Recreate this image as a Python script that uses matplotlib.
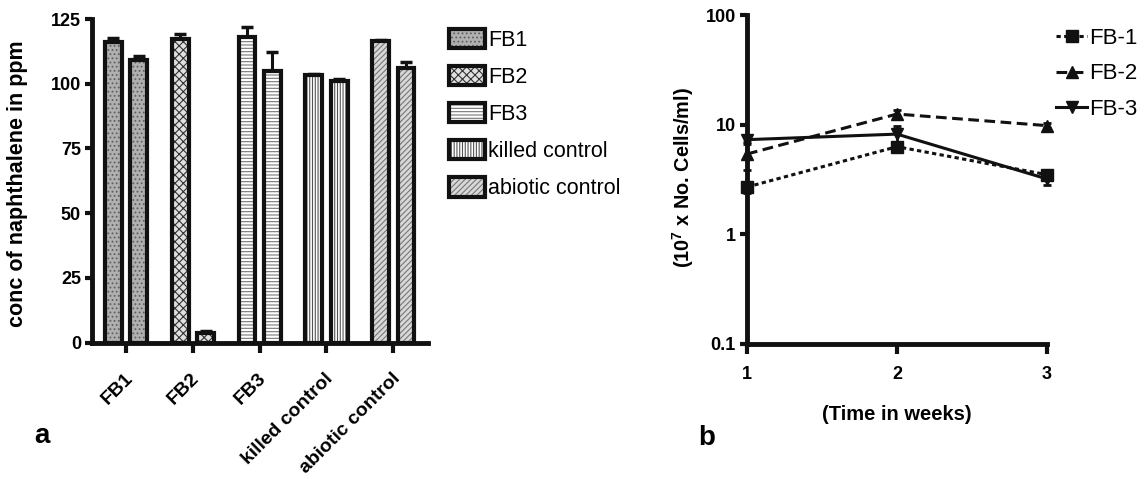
import matplotlib
matplotlib.use('Agg')
import matplotlib.pyplot as plt
import matplotlib.transforms as mtransforms
from matplotlib.patches import Patch
from matplotlib.lines import Line2D
from matplotlib.legend_handler import HandlerTuple
import numpy as np

plt.rcParams['font.family'] = ['Liberation Sans', 'DejaVu Sans']
plt.rcParams['mathtext.fontset'] = 'custom'
plt.rcParams['mathtext.rm'] = 'Liberation Sans'
plt.rcParams['mathtext.bf'] = 'Liberation Sans:bold'
plt.rcParams['hatch.linewidth'] = 0.8

# panel a: naphthalene concentration, two bars per group
groups = ['FB1', 'FB2', 'FB3', 'killed control', 'abiotic control']
conc_1 = [116.2, 117.1, 118.0, 103.3, 116.4]
conc_2 = [109.0, 3.6, 104.9, 101.0, 105.9]
err_1 = [1.4, 2.0, 4.0, 0.5, 0.6]
err_2 = [1.7, 1.0, 7.5, 0.8, 2.5]

# panel b: cell counts over time
weeks = [1, 2, 3]
series_names = ['FB-1', 'FB-2', 'FB-3']
fb1_cells = [2.7, 6.3, 3.5]
fb2_cells = [5.4, 12.5, 9.8]
fb3_cells = [7.3, 8.2, 3.2]
fb1_err = [0.3, 0.5, 0.3]
fb2_err = [1.5, 1.2, 0.5]
fb3_err = [0.6, 1.5, 0.4]

fills = ['#b0b0b0', '#e0e0e0', 'white', 'white', '#d8d8d8']
hatches = ['....', 'xxxx', '-----', '||||||', '//////']
hatch_cols = ['#606060', '#333333', '#777777', '#555555', '#777777']

W, H = 1146, 479
fig = plt.figure(figsize=(W / 100, H / 100), dpi=100)

# ---------------- panel a ----------------
ax = fig.add_axes([92 / W, 1 - 342.7 / H, (428 - 92) / W, (342.7 - 19) / H])
x = np.arange(len(groups))
off, bw = 0.19, 0.25
for i in range(len(groups)):
    for xx, v, e in [(x[i] - off, conc_1[i], err_1[i]), (x[i] + off, conc_2[i], err_2[i])]:
        ax.errorbar(xx, v, yerr=[[0], [e]], fmt='none', ecolor='#111111',
                    elinewidth=2.2, capsize=4.5, capthick=2.5, zorder=1)
        ax.bar(xx, v, width=bw, color=fills[i], hatch=hatches[i],
               edgecolor=hatch_cols[i], linewidth=0, zorder=2)
        ax.bar(xx, v, width=bw, facecolor='none', edgecolor='#111111',
               linewidth=3, zorder=3)

ax.set_xlim(-0.51, 4.52)
ax.set_ylim(0, 125)
ax.set_yticks([0, 25, 50, 75, 100, 125])
ax.set_xticks(x)
ax.set_xticklabels(groups, rotation=45, ha='right', va='center',
                   rotation_mode='anchor', fontweight='bold', fontsize=14)
ax.tick_params(axis='y', labelsize=13, width=3, length=5, pad=3, color='#111111')
ax.tick_params(axis='x', width=3, length=7, pad=17, color='#111111')
for lbl in ax.get_yticklabels():
    lbl.set_fontweight('bold')
shift = mtransforms.ScaledTranslation(4 / 100, 0, fig.dpi_scale_trans)
for lbl in ax.get_xticklabels():
    lbl.set_transform(lbl.get_transform() + shift)
for s in ['top', 'right']:
    ax.spines[s].set_visible(False)
for s in ['left', 'bottom']:
    ax.spines[s].set_linewidth(3.5)
    ax.spines[s].set_color('#111111')
ax.set_ylabel('conc of naphthalene in ppm', fontsize=15.5, fontweight='bold')
ax.yaxis.set_label_coords(-0.19, 0.49)

handles = []
for i in range(len(groups)):
    handles.append((Patch(facecolor=fills[i], hatch=hatches[i], edgecolor=hatch_cols[i], linewidth=0),
                    Patch(facecolor='none', edgecolor='#111111', linewidth=3)))
ax.legend(handles, groups, handler_map={tuple: HandlerTuple(ndivide=1, pad=0)},
          loc='upper left', bbox_to_anchor=(449 / W, 1 - 29 / H),
          bbox_transform=fig.transFigure, frameon=False, fontsize=15.5,
          handlelength=1.65, handleheight=1.0, handletextpad=0.15,
          labelspacing=0.7, borderpad=0, borderaxespad=0)

# ---------------- panel b ----------------
bx = fig.add_axes([747 / W, 1 - 344 / H, 300 / W, 329 / H])
styles = [dict(ls=(0, (1.4, 1.1)), marker='s'),
          dict(ls=(0, (3.5, 1.8)), marker='^'),
          dict(ls='-', marker='v')]
data = [fb1_cells, fb2_cells, fb3_cells]
errs = [fb1_err, fb2_err, fb3_err]
line_handles = []
for name, st, d, e in zip(series_names, styles, data, errs):
    bx.errorbar(weeks, d, yerr=e, fmt='none', ecolor='#111111', elinewidth=2,
                capsize=3, capthick=2, clip_on=False, zorder=3)
    bx.plot(weeks, d, color='#111111', lw=2.2, linestyle=st['ls'], marker=st['marker'],
            ms=9, clip_on=False, zorder=4)
    line_handles.append(Line2D([], [], color='#111111', lw=2.2, linestyle=st['ls'],
                               marker=st['marker'], ms=9))

bx.set_yscale('log')
bx.set_ylim(0.1, 100)
bx.set_xlim(1, 3)
bx.set_xticks(weeks)
bx.set_xticklabels([str(w) for w in weeks])
bx.set_yticks([0.1, 1, 10, 100])
bx.set_yticklabels(['0.1', '1', '10', '100'])
bx.minorticks_off()
bx.tick_params(axis='y', labelsize=13, width=3, length=5, pad=3, color='#111111')
bx.tick_params(axis='x', labelsize=13, width=3, length=7, pad=9, color='#111111')
for lbl in bx.get_xticklabels() + bx.get_yticklabels():
    lbl.set_fontweight('bold')
for s in ['top', 'right']:
    bx.spines[s].set_visible(False)
for s in ['left', 'bottom']:
    bx.spines[s].set_linewidth(3.5)
    bx.spines[s].set_color('#111111')
bx.set_ylabel(r'(10$^{\mathbf{7}}$ x No. Cells/ml)', fontsize=14.3, fontweight='bold')
bx.yaxis.set_label_coords(-0.17, 0.506)
bx.set_xlabel('(Time in weeks)', fontsize=14.5, fontweight='bold')
bx.xaxis.set_label_coords(0.5, -0.185)

bx.legend(line_handles, series_names, loc='upper left',
          bbox_to_anchor=(1056 / W, 1 - 28 / H), bbox_transform=fig.transFigure,
          frameon=False, fontsize=16, numpoints=1, handlelength=1.4,
          handletextpad=0.08, labelspacing=0.65, borderpad=0, borderaxespad=0)

fig.text(34 / W, 1 - 443 / H, 'a', fontsize=20, fontweight='bold', va='baseline')
fig.text(698 / W, 1 - 445 / H, 'b', fontsize=20, fontweight='bold', va='baseline')

fig.savefig('out.png', dpi=100)
